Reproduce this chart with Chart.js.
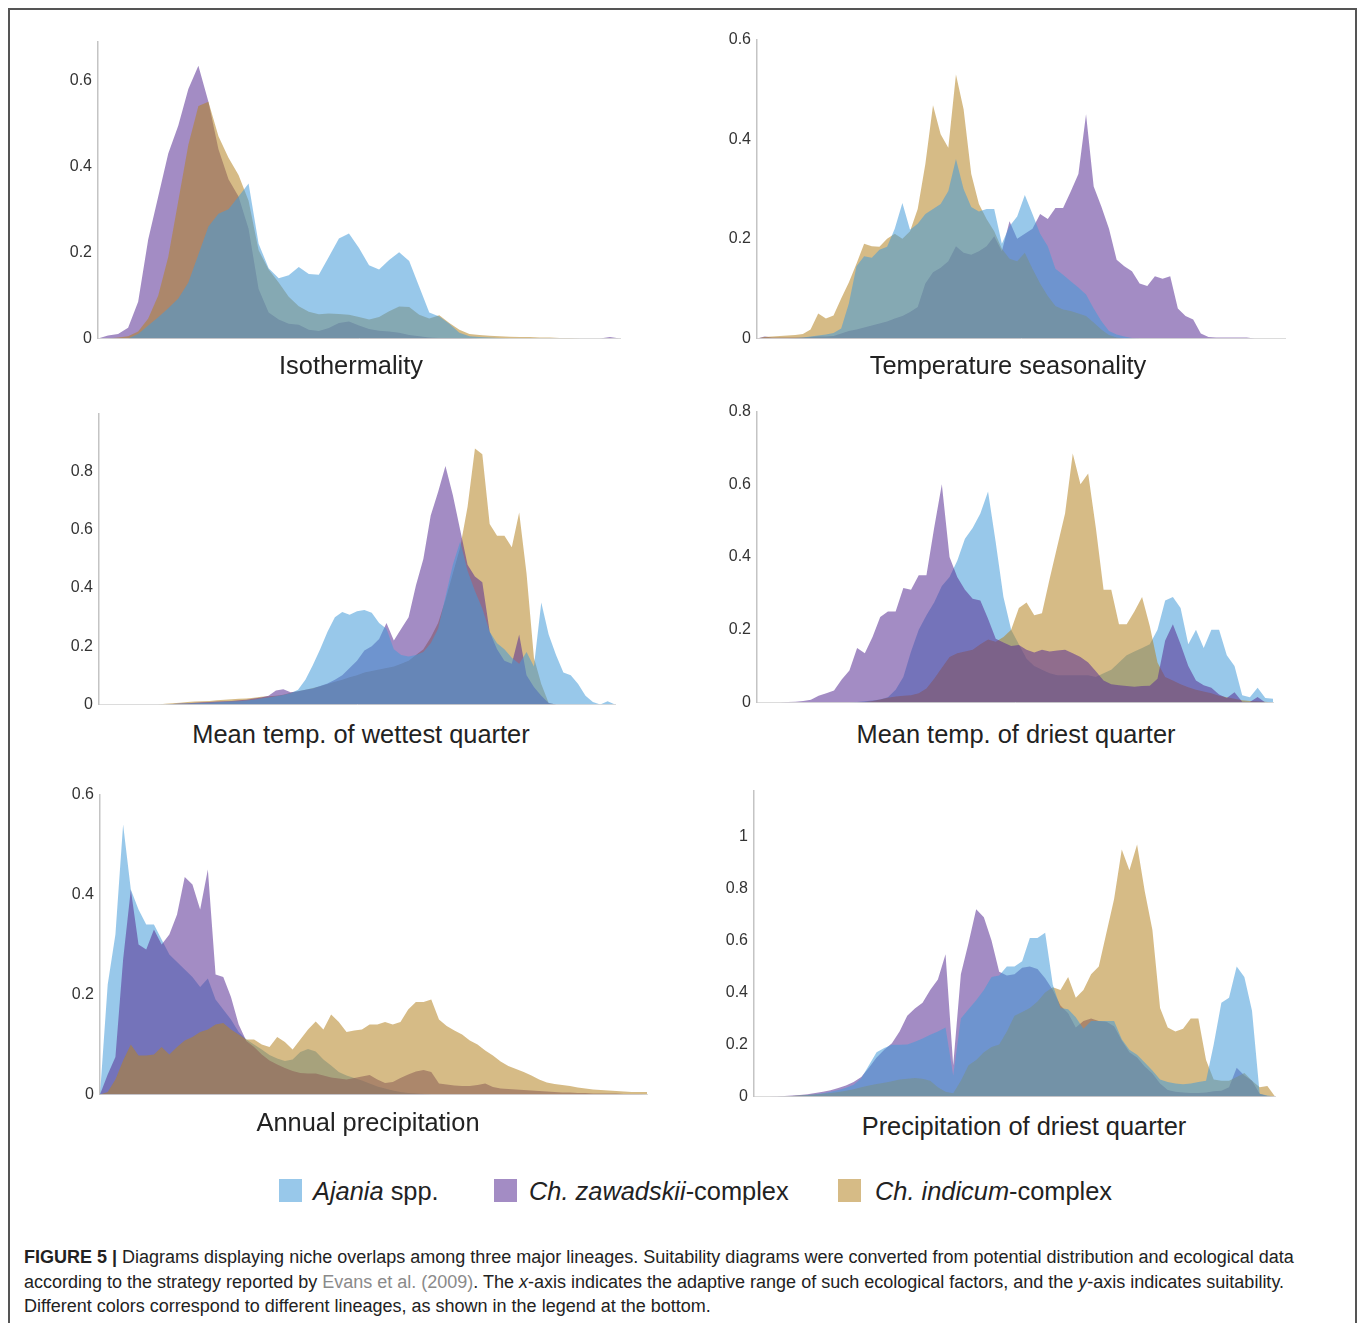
<!DOCTYPE html>
<html><head><meta charset="utf-8">
<script src="https://cdn.jsdelivr.net/npm/chart.js@4.4.1/dist/chart.umd.min.js"></script>
<style>
html,body{margin:0;padding:0;background:#fff;}
body{width:1360px;height:1323px;position:relative;overflow:hidden;font-family:"Liberation Sans",Arial,Helvetica,sans-serif;color:#222;}
#frame{position:absolute;left:8px;top:8px;width:1349px;height:1400px;border:2px solid #555;box-sizing:border-box;}
canvas{position:absolute;}
.ptitle{position:absolute;font-size:25.4px;line-height:28px;white-space:nowrap;transform:translateX(-50%);color:#222;}
.leg{position:absolute;font-size:25.4px;line-height:28px;white-space:nowrap;color:#222;}
.sw{position:absolute;width:23px;height:23px;}
#caption{position:absolute;left:24px;top:1245px;font-size:18px;line-height:24.5px;white-space:nowrap;color:#222;}
#caption .ref{color:#8a8a8a;}
</style></head>
<body>
<div id="frame"></div>
<div id="stage"></div>
<div class="sw" style="left:279px;top:1179px;background:#98c8ea"></div>
<div class="leg" style="left:313px;top:1177px"><i>Ajania</i> spp.</div>
<div class="sw" style="left:494px;top:1179px;background:#a38cc4"></div>
<div class="leg" style="left:529px;top:1177px"><i>Ch. zawadskii</i>-complex</div>
<div class="sw" style="left:838px;top:1179px;background:#d6bb86"></div>
<div class="leg" style="left:875px;top:1177px"><i>Ch. indicum</i>-complex</div>
<div id="caption"><b>FIGURE 5 |</b> Diagrams displaying niche overlaps among three major lineages. Suitability diagrams were converted from potential distribution and ecological data<br>according to the strategy reported by <span class="ref">Evans et al. (2009)</span>. The <i>x</i>-axis indicates the adaptive range of such ecological factors, and the <i>y</i>-axis indicates suitability.<br>Different colors correspond to different lineages, as shown in the legend at the bottom.</div>
<script>
// ---------- DATA ----------
const seriesNames = ['Ajania spp.', 'Ch. zawadskii-complex', 'Ch. indicum-complex'];

// Isothermality
const isoAjania = [0,0,0,0,0.01,0.03,0.049,0.07,0.093,0.13,0.195,0.26,0.29,0.30,0.33,0.36,0.22,0.163,0.14,0.147,0.166,0.15,0.148,0.19,0.232,0.244,0.21,0.17,0.16,0.182,0.2,0.18,0.12,0.06,0.051,0.034,0.013,0.005,0.003,0.002,0.001,0,0,0,0,0,0,0,0,0,0,0,0];
const isoZawadskii = [0,0.007,0.010,0.025,0.085,0.23,0.33,0.43,0.495,0.58,0.634,0.55,0.44,0.37,0.33,0.255,0.115,0.06,0.044,0.034,0.032,0.02,0.017,0.024,0.036,0.039,0.03,0.022,0.018,0.016,0.013,0.008,0.005,0.002,0.001,0.001,0.001,0.001,0,0,0,0,0,0,0,0,0,0,0,0,0,0.003,0];
const isoIndicum = [0,0,0.002,0.005,0.016,0.046,0.10,0.19,0.32,0.45,0.54,0.55,0.47,0.42,0.38,0.32,0.205,0.16,0.13,0.097,0.075,0.062,0.056,0.058,0.057,0.055,0.05,0.044,0.05,0.063,0.074,0.073,0.055,0.046,0.054,0.036,0.02,0.01,0.008,0.006,0.005,0.004,0.003,0.003,0.002,0.002,0.001,0.001,0,0,0,0,0];
const isoTicks = [0,0.2,0.4,0.6];

// Temperature seasonality
const tsAjania = [0,0,0,0,0,0.001,0.002,0.004,0.006,0.008,0.011,0.02,0.07,0.145,0.165,0.162,0.178,0.184,0.22,0.272,0.218,0.23,0.25,0.26,0.27,0.296,0.36,0.3,0.264,0.255,0.26,0.26,0.19,0.225,0.245,0.288,0.25,0.21,0.185,0.14,0.128,0.115,0.102,0.088,0.06,0.035,0.015,0.008,0.004,0.001,0,0,0,0,0,0,0,0,0,0,0,0,0,0,0,0,0,0,0,0];
const tsZawadskii = [0,0.004,0.002,0.002,0.002,0.002,0.002,0.003,0.004,0.004,0.005,0.01,0.015,0.018,0.022,0.026,0.03,0.034,0.04,0.045,0.053,0.063,0.11,0.133,0.142,0.155,0.185,0.172,0.168,0.175,0.185,0.205,0.175,0.235,0.2,0.21,0.22,0.25,0.24,0.262,0.262,0.295,0.33,0.45,0.305,0.265,0.22,0.158,0.145,0.135,0.11,0.105,0.125,0.12,0.125,0.06,0.045,0.038,0.01,0.003,0.002,0.002,0.002,0.002,0.002,0,0,0,0,0];
const tsIndicum = [0,0.003,0.004,0.005,0.006,0.007,0.009,0.018,0.05,0.04,0.046,0.08,0.112,0.15,0.19,0.185,0.184,0.2,0.21,0.2,0.215,0.26,0.35,0.468,0.41,0.383,0.53,0.46,0.33,0.27,0.24,0.215,0.18,0.16,0.155,0.172,0.14,0.11,0.085,0.065,0.058,0.055,0.05,0.045,0.032,0.018,0.007,0.002,0,0,0,0,0,0,0,0,0,0,0,0,0,0,0,0,0,0,0,0,0,0];
const tsTicks = [0,0.2,0.4,0.6];

// Mean temp. of wettest quarter
const mtwAjania = [0,0,0,0,0,0,0,0,0,0,0.001,0.002,0.003,0.004,0.005,0.006,0.007,0.009,0.01,0.011,0.013,0.016,0.02,0.024,0.028,0.032,0.038,0.05,0.085,0.135,0.19,0.25,0.3,0.318,0.308,0.32,0.325,0.315,0.28,0.26,0.19,0.17,0.165,0.17,0.18,0.21,0.26,0.37,0.48,0.56,0.46,0.39,0.33,0.25,0.21,0.19,0.16,0.14,0.18,0.13,0.35,0.24,0.17,0.11,0.1,0.07,0.03,0.008,0,0.011,0];
const mtwZawadskii = [0,0,0,0,0,0,0,0,0,0,0.001,0.003,0.004,0.006,0.007,0.008,0.01,0.011,0.012,0.014,0.016,0.02,0.024,0.03,0.048,0.052,0.042,0.045,0.05,0.055,0.063,0.072,0.085,0.1,0.125,0.15,0.185,0.2,0.225,0.28,0.22,0.26,0.3,0.41,0.5,0.65,0.73,0.82,0.72,0.6,0.48,0.44,0.42,0.25,0.19,0.15,0.14,0.24,0.1,0.06,0.03,0.005,0,0,0,0,0,0,0,0,0];
const mtwIndicum = [0,0,0,0,0,0,0,0,0,0.002,0.004,0.006,0.008,0.01,0.011,0.012,0.014,0.016,0.018,0.019,0.02,0.023,0.026,0.028,0.03,0.033,0.04,0.045,0.05,0.056,0.062,0.07,0.078,0.085,0.093,0.1,0.11,0.115,0.12,0.125,0.13,0.14,0.15,0.17,0.19,0.23,0.28,0.36,0.45,0.54,0.68,0.88,0.86,0.62,0.58,0.58,0.54,0.66,0.45,0.16,0.07,0.005,0,0,0,0,0,0,0,0,0];
const mtwTicks = [0,0.2,0.4,0.6,0.8];

// Mean temp. of driest quarter
const mtdAjania = [0,0,0,0,0,0,0,0,0,0,0,0,0,0.001,0.003,0.005,0.008,0.014,0.035,0.07,0.14,0.2,0.24,0.275,0.32,0.345,0.39,0.45,0.48,0.52,0.58,0.44,0.29,0.2,0.16,0.12,0.1,0.09,0.08,0.075,0.075,0.075,0.075,0.075,0.07,0.08,0.09,0.11,0.13,0.14,0.15,0.16,0.2,0.28,0.29,0.26,0.16,0.2,0.15,0.2,0.2,0.13,0.1,0.02,0.014,0.04,0.012,0.01];
const mtdZawadskii = [0,0,0,0,0.001,0.002,0.004,0.007,0.018,0.025,0.033,0.063,0.088,0.15,0.135,0.18,0.235,0.25,0.25,0.315,0.31,0.35,0.35,0.48,0.6,0.4,0.345,0.31,0.285,0.28,0.23,0.175,0.165,0.155,0.158,0.145,0.137,0.145,0.14,0.143,0.145,0.135,0.125,0.11,0.086,0.06,0.05,0.047,0.045,0.043,0.045,0.046,0.065,0.17,0.215,0.16,0.1,0.06,0.047,0.04,0.022,0.012,0.028,0.002,0.001,0.015,0,0];
const mtdIndicum = [0,0,0,0,0,0,0,0,0,0,0,0,0,0,0.001,0.004,0.008,0.013,0.016,0.018,0.02,0.025,0.038,0.065,0.095,0.125,0.135,0.14,0.145,0.16,0.173,0.167,0.18,0.2,0.26,0.275,0.24,0.245,0.34,0.43,0.52,0.685,0.6,0.63,0.48,0.31,0.31,0.215,0.215,0.25,0.29,0.21,0.11,0.07,0.06,0.05,0.042,0.035,0.03,0.025,0.018,0.014,0.01,0.006,0.004,0.003,0.002,0];
const mtdTicks = [0,0.2,0.4,0.6,0.8];

// Annual precipitation
const apAjania = [0,0.22,0.32,0.54,0.41,0.37,0.34,0.34,0.31,0.28,0.265,0.25,0.235,0.215,0.232,0.19,0.17,0.15,0.125,0.11,0.1,0.09,0.079,0.072,0.067,0.07,0.085,0.091,0.086,0.07,0.058,0.045,0.038,0.033,0.028,0.022,0.016,0.012,0.008,0.005,0.003,0.002,0.001,0,0,0,0,0,0,0,0,0,0,0,0,0,0,0,0,0,0,0,0,0,0,0,0,0,0,0,0,0];
const apZawadskii = [0,0.04,0.075,0.27,0.41,0.3,0.29,0.33,0.3,0.32,0.36,0.435,0.42,0.37,0.45,0.24,0.235,0.195,0.14,0.107,0.095,0.08,0.068,0.06,0.053,0.047,0.043,0.042,0.042,0.038,0.034,0.032,0.03,0.033,0.036,0.039,0.03,0.023,0.025,0.033,0.04,0.046,0.049,0.045,0.022,0.02,0.018,0.017,0.017,0.019,0.022,0.015,0.012,0.011,0.01,0.009,0.008,0.007,0.006,0.005,0.004,0.004,0.003,0.003,0.002,0.002,0.002,0.002,0.001,0.001,0.001,0];
const apIndicum = [0,0.005,0.03,0.068,0.1,0.078,0.078,0.08,0.095,0.08,0.095,0.108,0.115,0.125,0.13,0.14,0.143,0.13,0.12,0.11,0.11,0.1,0.095,0.115,0.105,0.09,0.11,0.13,0.146,0.13,0.16,0.145,0.125,0.128,0.13,0.14,0.14,0.145,0.14,0.145,0.17,0.185,0.185,0.19,0.15,0.137,0.128,0.12,0.108,0.1,0.088,0.078,0.066,0.057,0.051,0.045,0.038,0.03,0.024,0.021,0.019,0.017,0.014,0.012,0.01,0.009,0.008,0.007,0.006,0.005,0.005,0.005];
const apTicks = [0,0.2,0.4,0.6];

// Precipitation of driest quarter
const pdqAjania = [0,0,0,0,0.001,0.002,0.003,0.005,0.008,0.012,0.018,0.025,0.033,0.045,0.07,0.12,0.17,0.186,0.199,0.199,0.2,0.21,0.223,0.237,0.25,0.265,0.08,0.3,0.335,0.37,0.41,0.46,0.465,0.5,0.5,0.52,0.61,0.61,0.63,0.43,0.34,0.335,0.305,0.26,0.29,0.29,0.29,0.29,0.22,0.18,0.16,0.13,0.1,0.065,0.055,0.05,0.047,0.05,0.055,0.06,0.2,0.36,0.38,0.5,0.46,0.33,0.01,0.003,0];
const pdqZawadskii = [0,0,0,0.001,0.002,0.003,0.005,0.008,0.013,0.018,0.024,0.032,0.042,0.055,0.075,0.11,0.15,0.18,0.205,0.25,0.31,0.338,0.36,0.41,0.45,0.547,0.12,0.47,0.59,0.72,0.69,0.6,0.48,0.465,0.47,0.495,0.5,0.49,0.455,0.41,0.35,0.32,0.265,0.29,0.3,0.29,0.287,0.27,0.215,0.17,0.15,0.115,0.088,0.05,0.025,0.018,0.015,0.013,0.013,0.015,0.02,0.022,0.035,0.11,0.08,0.06,0.01,0.002,0];
const pdqIndicum = [0,0,0,0,0.001,0.002,0.003,0.005,0.007,0.01,0.013,0.017,0.022,0.028,0.035,0.042,0.048,0.053,0.058,0.065,0.068,0.071,0.068,0.06,0.035,0.018,0.012,0.06,0.12,0.14,0.17,0.19,0.2,0.25,0.31,0.325,0.34,0.365,0.4,0.42,0.41,0.46,0.38,0.41,0.47,0.5,0.63,0.76,0.95,0.87,0.97,0.79,0.64,0.34,0.265,0.25,0.26,0.3,0.3,0.14,0.065,0.06,0.06,0.075,0.09,0.06,0.035,0.04,0];
const pdqTicks = [0,0.2,0.4,0.6,0.8,1];

const panelTitles = ['Isothermality','Temperature seasonality','Mean temp. of wettest quarter','Mean temp. of driest quarter','Annual precipitation','Precipitation of driest quarter'];

// ---------- LAYOUT / STYLE ----------
const fills = ['rgba(68,155,217,0.55)','rgba(88,46,148,0.55)','rgba(180,131,35,0.55)'];
// order: lower = drawn on top  [Ajania, zawadskii, indicum]
const panels = [
  {series:[isoAjania,isoZawadskii,isoIndicum], ticks:isoTicks, max:0.69, order:[0,2,1], axisX:98, right:620, top:38, base:342, tx:351, ty:365},
  {series:[tsAjania,tsZawadskii,tsIndicum], ticks:tsTicks, max:0.6, order:[0,2,1], axisX:757, right:1285, top:36, base:342, tx:1008, ty:365},
  {series:[mtwAjania,mtwZawadskii,mtwIndicum], ticks:mtwTicks, max:1.0, order:[0,1,2], axisX:99, right:615, top:410, base:708, tx:361, ty:734},
  {series:[mtdAjania,mtdZawadskii,mtdIndicum], ticks:mtdTicks, max:0.8, order:[2,0,1], axisX:757, right:1273, top:408, base:706, tx:1016, ty:734},
  {series:[apAjania,apZawadskii,apIndicum], ticks:apTicks, max:0.6, order:[2,1,0], axisX:100, right:647, top:791, base:1098, tx:368, ty:1122},
  {series:[pdqAjania,pdqZawadskii,pdqIndicum], ticks:pdqTicks, max:1.177, order:[0,2,1], axisX:754, right:1275, top:787, base:1100, tx:1024, ty:1126}
];

const YW = 56, PT = 12, PB = 12, PR = 4;
const stage = document.getElementById('stage');

panels.forEach((p, k) => {
  const cv = document.createElement('canvas');
  const w = YW + (p.right - p.axisX) + PR;
  const h = PT + (p.base - p.top) + PB;
  cv.width = w; cv.height = h;
  cv.style.left = (p.axisX - YW) + 'px';
  cv.style.top = (p.top - PT) + 'px';
  cv.style.width = w + 'px'; cv.style.height = h + 'px';
  stage.appendChild(cv);

  const t = document.createElement('div');
  t.className = 'ptitle';
  t.textContent = panelTitles[k];
  t.style.left = p.tx + 'px';
  t.style.top = (p.ty - 14) + 'px';
  stage.appendChild(t);

  const steps = p.series[0].map((_, i) => i);
  new Chart(cv, {
    type: 'line',
    data: {
      labels: steps,
      datasets: p.series.map((s, j) => ({
        label: seriesNames[j],
        data: s,
        backgroundColor: fills[j],
        borderColor: 'rgba(0,0,0,0)',
        borderWidth: 0,
        pointRadius: 0,
        tension: 0,
        fill: 'origin',
        order: p.order[j]
      }))
    },
    options: {
      responsive: false,
      animation: false,
      events: [],
      layout: {padding: {top: PT, bottom: PB, left: 0, right: PR}},
      plugins: {legend: {display: false}, tooltip: {enabled: false}},
      scales: {
        x: {
          type: 'category',
          offset: false,
          ticks: {display: false},
          grid: {display: false, drawTicks: false},
          border: {display: true, color: '#dcdcdc', width: 1}
        },
        y: {
          min: 0, max: p.max,
          afterFit: (s) => { s.width = YW; },
          afterBuildTicks: (s) => { s.ticks = p.ticks.map(v => ({value: v})); },
          ticks: {
            callback: (v) => String(v),
            color: '#333',
            padding: 6,
            font: {family: '"Liberation Sans", Arial, sans-serif', size: 16}
          },
          grid: {display: false, drawTicks: false},
          border: {display: true, color: '#c4c4c4', width: 1.5}
        }
      }
    }
  });
});
</script>
</body></html>
